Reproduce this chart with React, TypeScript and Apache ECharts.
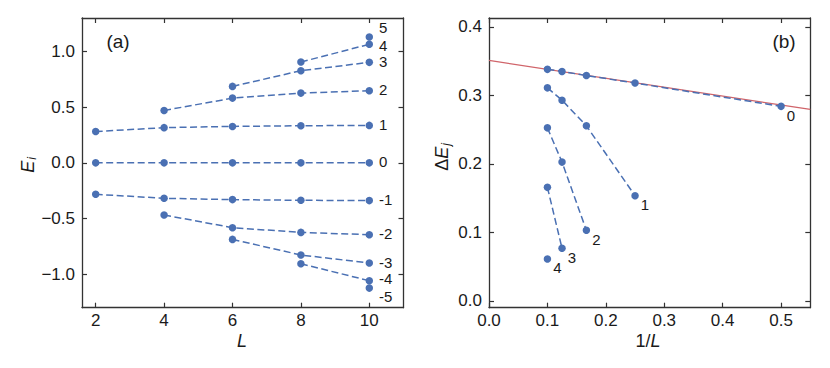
import React, { useEffect, useRef } from "react";
import * as echarts from "echarts";

// ---- Panel (a): energy levels E_i versus L ----
const L_VALUES = [2, 4, 6, 8, 10];
const LEVEL_NAMES = ["5", "4", "3", "2", "1", "0", "-1", "-2", "-3", "-4", "-5"];
const E5 = [1.13];
const E4 = [0.905, 1.064];
const E3 = [0.686, 0.827, 0.902];
const E2 = [0.47, 0.581, 0.626, 0.647];
const E1 = [0.281, 0.316, 0.327, 0.333, 0.336];
const E0 = [0, 0, 0, 0, 0];
const EM1 = [-0.282, -0.318, -0.33, -0.336, -0.339];
const EM2 = [-0.468, -0.582, -0.624, -0.645];
const EM3 = [-0.687, -0.827, -0.899];
const EM4 = [-0.906, -1.058];
const EM5 = [-1.124];
const LEVELS = [E5, E4, E3, E2, E1, E0, EM1, EM2, EM3, EM4, EM5];

// ---- Panel (b): gaps ΔE_j versus 1/L ----
const INV_L = [0.1, 0.125, 0.1667, 0.25, 0.5];
const GAP_NAMES = ["0", "1", "2", "3", "4"];
const DE0 = [0.338, 0.335, 0.329, 0.318, 0.284];
const DE1 = [0.311, 0.293, 0.2556, 0.1535];
const DE2 = [0.2526, 0.2026, 0.103];
const DE3 = [0.1657, 0.0768];
const DE4 = [0.0612];
const GAPS = [DE0, DE1, DE2, DE3, DE4];
const FIT_X = [0, 0.55];
const FIT_Y = [0.351, 0.2795];

// ---- Axis ticks ----
const LEFT_X_TICKS = [2, 4, 6, 8, 10];
const LEFT_Y_TICKS = [-1, -0.5, 0, 0.5, 1];
const RIGHT_X_TICKS = [0, 0.1, 0.2, 0.3, 0.4, 0.5];
const RIGHT_Y_TICKS = [0, 0.1, 0.2, 0.3, 0.4];

const BLUE = "#4A70B3";
const RED = "#D0646A";
const AXIS = "#333333";
const TEXT = "#1a1a1a";
const FONT = "Liberation Sans, Arial, sans-serif";

const fmt1 = (v: number) => v.toFixed(1).replace("-", "\u2212");

function makeAxis(kind: "x" | "y", grid: number, position: string, min: number, max: number, ticks: number[], showLabel: boolean, fmt?: (v: number) => string) {
  return {
    type: "value",
    gridIndex: grid,
    position,
    min,
    max,
    axisLine: { show: true, onZero: false, lineStyle: { color: AXIS, width: 1.3 } },
    axisTick: { show: true, inside: true, length: 5, customValues: ticks, lineStyle: { color: AXIS, width: 1.2 } },
    axisLabel: {
      show: showLabel,
      customValues: ticks,
      fontSize: 17,
      color: TEXT,
      fontFamily: FONT,
      margin: kind === "x" ? 4 : 7,
      formatter: fmt ? (v: number) => fmt(v) : undefined,
    },
    splitLine: { show: false },
  };
}

export default function App() {
  const ref = useRef<HTMLDivElement>(null);
  useEffect(() => {
    if (!ref.current) return;
    const chart = echarts.init(ref.current, undefined, { renderer: "svg" });

    const labelOffsetLeft: Record<string, number[]> = {
      "5": [0, -9],
      "4": [0, 1],
      "-4": [0, -2],
      "-5": [0, 8],
    };

    const leftSeries = LEVELS.map((arr, k) => {
      const xs = L_VALUES.slice(L_VALUES.length - arr.length);
      const name = LEVEL_NAMES[k];
      return {
        type: "line",
        xAxisIndex: 0,
        yAxisIndex: 0,
        symbol: "circle",
        symbolSize: 7.5,
        lineStyle: { color: BLUE, width: 1.5, type: [7, 3.5] },
        itemStyle: { color: BLUE },
        z: 3,
        data: arr.map((y, i) =>
          i === arr.length - 1
            ? {
                value: [xs[i], y],
                label: {
                  show: true,
                  formatter: name,
                  position: "right",
                  distance: 6,
                  offset: labelOffsetLeft[name] || [0, -1],
                  fontSize: 15,
                  lineHeight: 12,
                  color: TEXT,
                  fontFamily: FONT,
                },
              }
            : [xs[i], y]
        ),
      };
    });

    const rightSeries = GAPS.map((arr, k) => {
      const name = GAP_NAMES[k];
      return {
        type: "line",
        xAxisIndex: 2,
        yAxisIndex: 2,
        symbol: "circle",
        symbolSize: 7.5,
        lineStyle: { color: BLUE, width: 1.5, type: [7, 3.5] },
        itemStyle: { color: BLUE },
        z: 3,
        data: arr.map((y, i) =>
          i === arr.length - 1
            ? {
                value: [INV_L[i], y],
                label: {
                  show: true,
                  formatter: name,
                  position: "right",
                  distance: 2,
                  offset: [0, 9],
                  fontSize: 15,
                  lineHeight: 12,
                  color: TEXT,
                  fontFamily: FONT,
                },
              }
            : [INV_L[i], y]
        ),
      };
    });

    const fitSeries = {
      type: "line",
      xAxisIndex: 2,
      yAxisIndex: 2,
      symbol: "none",
      lineStyle: { color: RED, width: 1.3 },
      z: 2,
      data: FIT_X.map((x, i) => [x, FIT_Y[i]]),
    };

    const richTitle = {
      it: { fontStyle: "italic", fontSize: 18, fontFamily: FONT, fill: TEXT },
      n: { fontSize: 18, fontFamily: FONT, fill: TEXT },
      sub: { fontStyle: "italic", fontSize: 12, fontFamily: FONT, fill: TEXT, padding: [7, 0, 0, 1] },
    };

    chart.setOption({
      animation: false,
      backgroundColor: "#ffffff",
      grid: [
        { left: 82, top: 18, width: 321.5, height: 289.7 },
        { left: 489, top: 18, width: 321.3, height: 289.7 },
      ],
      xAxis: [
        makeAxis("x", 0, "bottom", 1.6, 11, LEFT_X_TICKS, true, (v) => String(v)),
        makeAxis("x", 0, "top", 1.6, 11, LEFT_X_TICKS, false),
        makeAxis("x", 1, "bottom", 0, 0.55, RIGHT_X_TICKS, true, fmt1),
        makeAxis("x", 1, "top", 0, 0.55, RIGHT_X_TICKS, false),
      ],
      yAxis: [
        makeAxis("y", 0, "left", -1.3, 1.3, LEFT_Y_TICKS, true, fmt1),
        makeAxis("y", 0, "right", -1.3, 1.3, LEFT_Y_TICKS, false),
        makeAxis("y", 1, "left", -0.01, 0.413, RIGHT_Y_TICKS, true, fmt1),
        makeAxis("y", 1, "right", -0.01, 0.413, RIGHT_Y_TICKS, false),
      ],
      series: [...leftSeries, fitSeries, ...rightSeries],
      graphic: [
        { type: "text", x: 118, y: 41, style: { text: "(a)", fontSize: 19, fontFamily: FONT, fill: TEXT, align: "center", verticalAlign: "middle" } },
        { type: "text", x: 784, y: 41, style: { text: "(b)", fontSize: 19, fontFamily: FONT, fill: TEXT, align: "center", verticalAlign: "middle" } },
        { type: "text", x: 242, y: 341, style: { text: "{it|L}", rich: richTitle, align: "center", verticalAlign: "middle" } },
        { type: "text", x: 648, y: 341, style: { text: "{n|1/}{it|L}", rich: richTitle, align: "center", verticalAlign: "middle" } },
        { type: "text", x: 28, y: 165, rotation: Math.PI / 2, style: { text: "{it|E}{sub|i}", rich: richTitle, align: "center", verticalAlign: "middle" } },
        { type: "text", x: 442, y: 157, rotation: Math.PI / 2, style: { text: "{n|\u0394}{it|E}{sub|j}", rich: richTitle, align: "center", verticalAlign: "middle" } },
      ],
    });
    return () => chart.dispose();
  }, []);
  return <div ref={ref} style={{ position: "fixed", left: 0, top: 0, width: 830, height: 368 }} />;
}
